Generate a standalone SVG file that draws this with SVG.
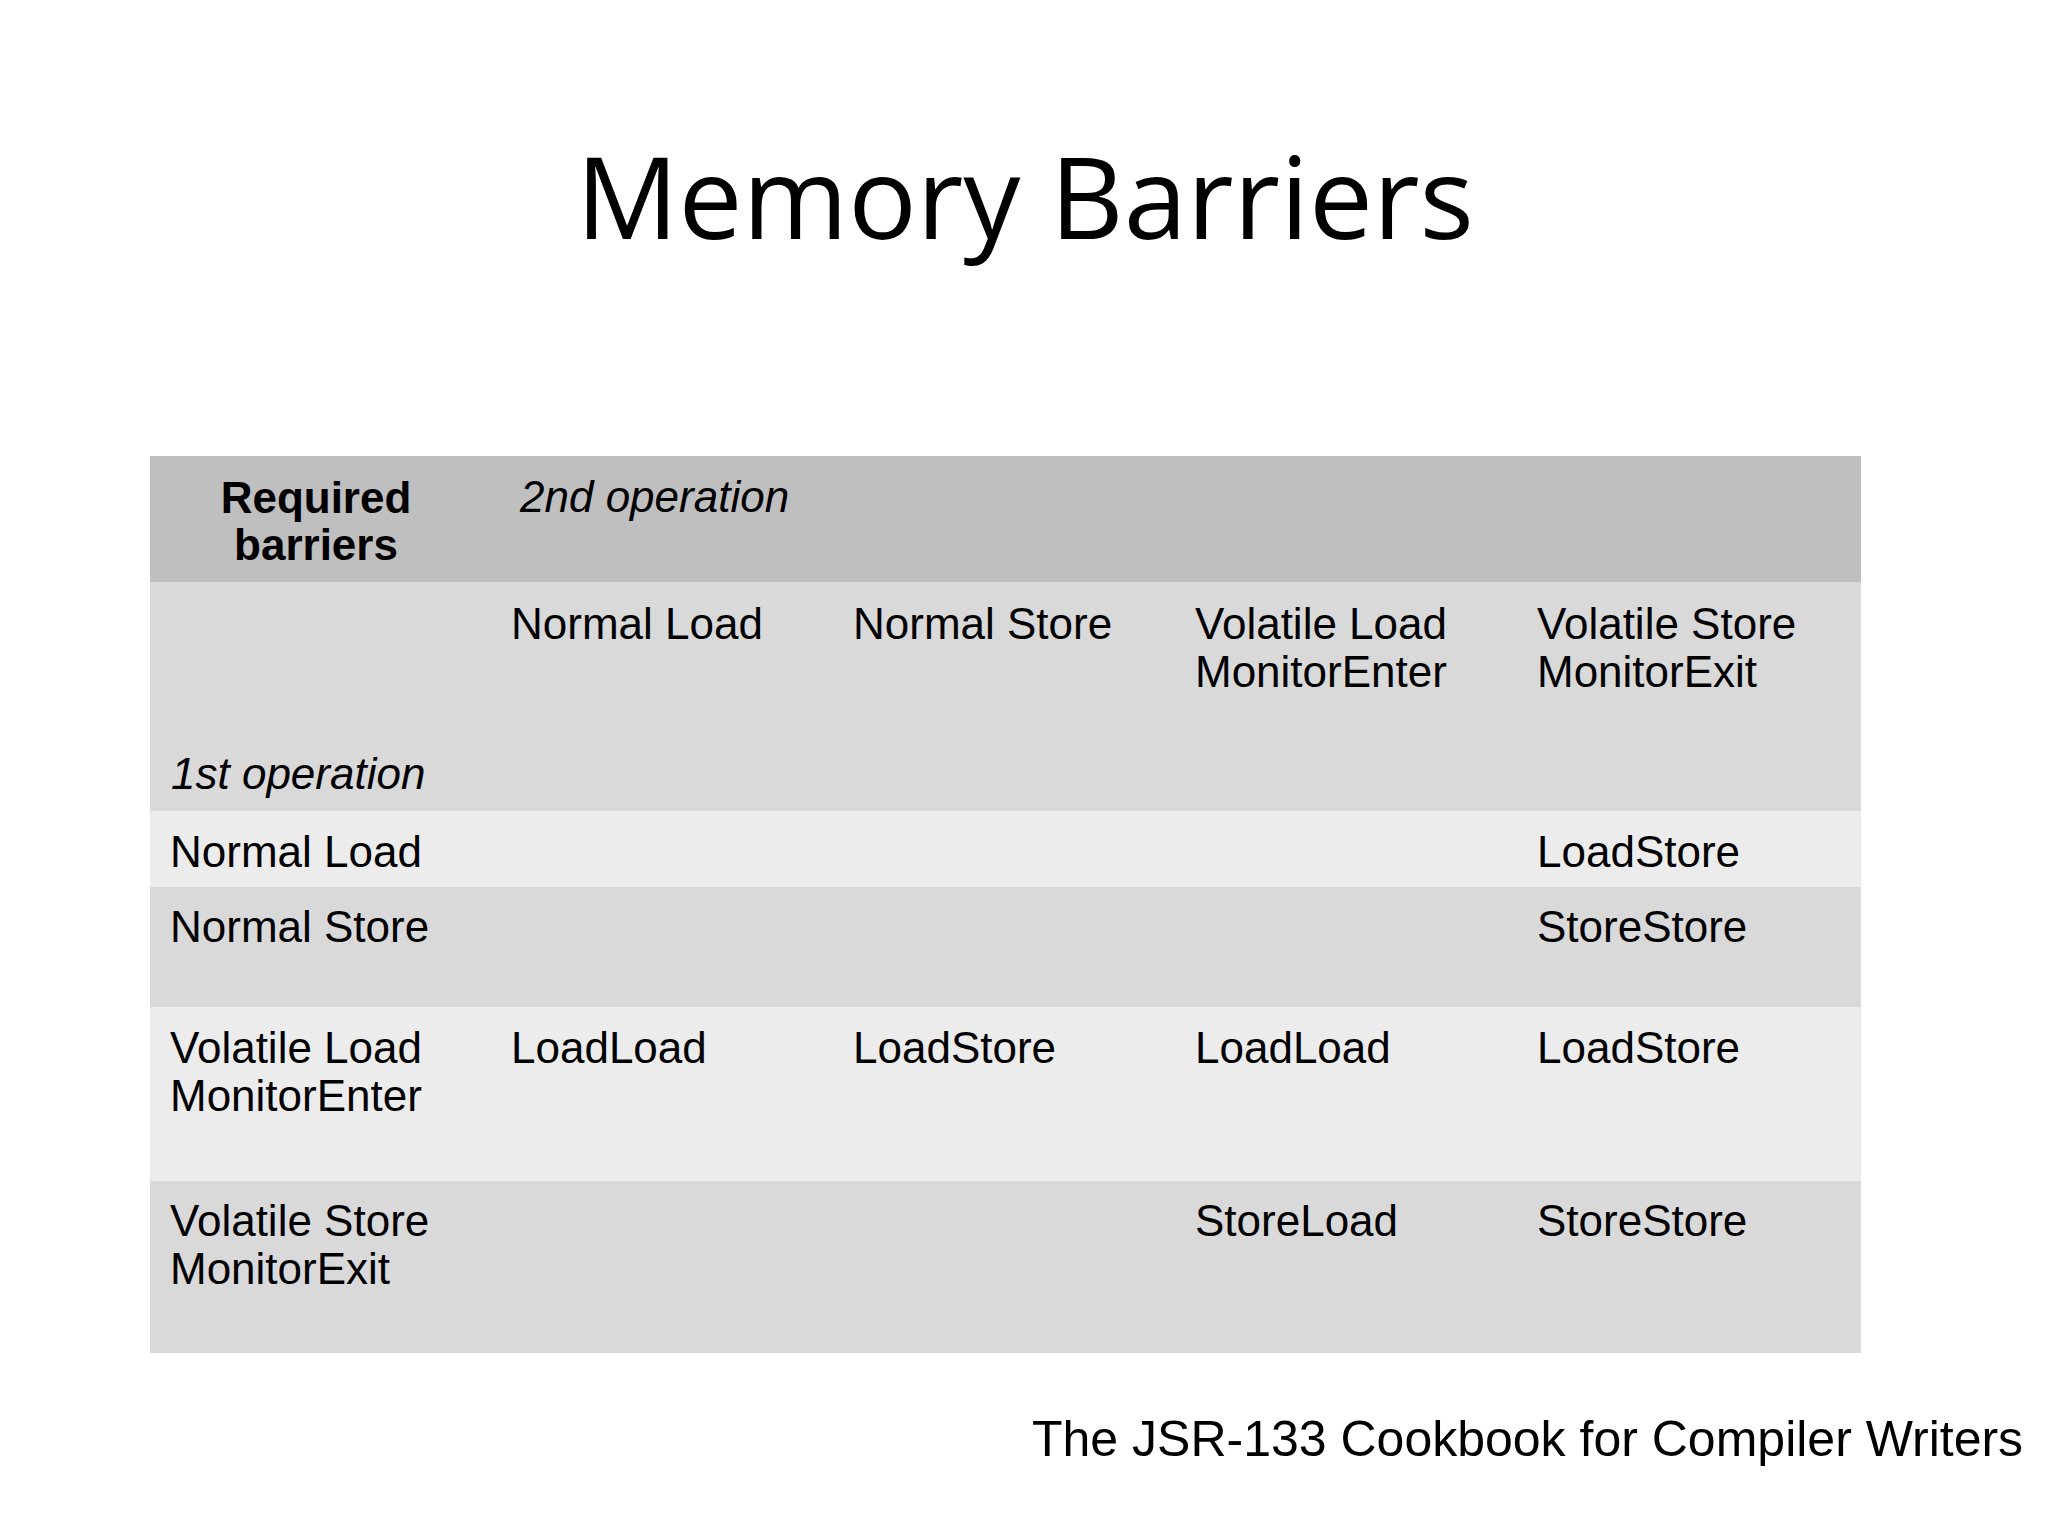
<svg xmlns="http://www.w3.org/2000/svg" width="2048" height="1536" viewBox="0 0 2048 1536">
<style>
.t{font-family:"Liberation Sans",Arial,sans-serif;font-size:44px;fill:#000}
.i{font-style:italic}
.b{font-weight:bold;text-anchor:middle}
</style>
<rect width="2048" height="1536" fill="#fff"/>
<text x="1025" y="239" font-family="Open Sans,Noto Sans,sans-serif" font-size="114" text-anchor="middle">Memory Barriers</text>
<g id="table">
<rect x="150" y="456" width="1711" height="126" fill="#bfbfbf"/>
<rect x="150" y="582" width="1711" height="229" fill="#d9d9d9"/>
<rect x="150" y="811" width="1711" height="76" fill="#ececec"/>
<rect x="150" y="887" width="1711" height="120" fill="#d9d9d9"/>
<rect x="150" y="1007" width="1711" height="174" fill="#ececec"/>
<rect x="150" y="1181" width="1711" height="172" fill="#d9d9d9"/>
<text class="t b" x="316" y="513">Required</text>
<text class="t b" x="316" y="560">barriers</text>
<text class="t i" x="520" y="512">2nd operation</text>
<text class="t" x="511" y="639">Normal Load</text>
<text class="t" x="853" y="639">Normal Store</text>
<text class="t" x="1195" y="639">Volatile Load</text>
<text class="t" x="1195" y="687">MonitorEnter</text>
<text class="t" x="1537" y="639">Volatile Store</text>
<text class="t" x="1537" y="687">MonitorExit</text>
<text class="t i" x="171" y="789">1st operation</text>
<text class="t" x="170" y="867">Normal Load</text>
<text class="t" x="1537" y="867">LoadStore</text>
<text class="t" x="170" y="942">Normal Store</text>
<text class="t" x="1537" y="942">StoreStore</text>
<text class="t" x="170" y="1063">Volatile Load</text>
<text class="t" x="170" y="1111">MonitorEnter</text>
<text class="t" x="511" y="1063">LoadLoad</text>
<text class="t" x="853" y="1063">LoadStore</text>
<text class="t" x="1195" y="1063">LoadLoad</text>
<text class="t" x="1537" y="1063">LoadStore</text>
<text class="t" x="170" y="1236">Volatile Store</text>
<text class="t" x="170" y="1284">MonitorExit</text>
<text class="t" x="1195" y="1236">StoreLoad</text>
<text class="t" x="1537" y="1236">StoreStore</text>
</g>
<text class="t" x="1032" y="1456" font-size="50" style="font-size:50px">The JSR-133 Cookbook for Compiler Writers</text>
</svg>
